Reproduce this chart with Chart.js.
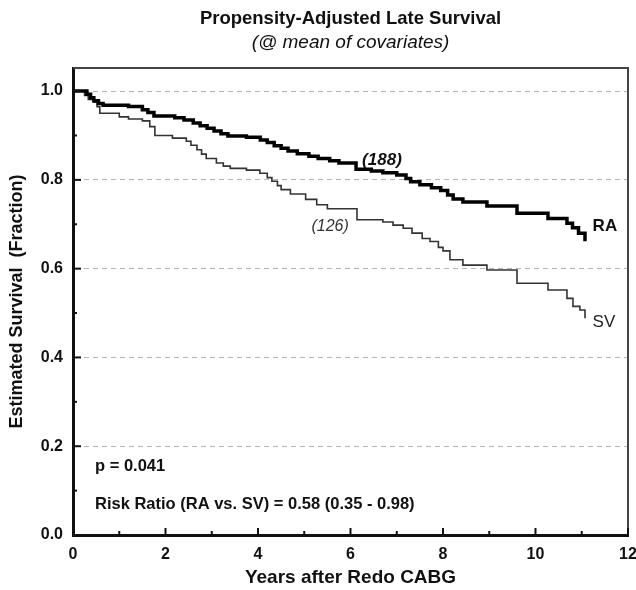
<!DOCTYPE html>
<html>
<head>
<meta charset="utf-8">
<script src="https://cdn.jsdelivr.net/npm/chart.js@4.4.1/dist/chart.umd.min.js"></script>
<style>
    html, body { margin: 0; padding: 0; background: #fff; }
</style>
</head>
<body>
<canvas id="late-survival" width="636" height="590"></canvas>
<script>
(function () {
    "use strict";

    // Kaplan-Meier style step data (years, fraction surviving)
    var raYears = [0, 0.3, 0.38, 0.45, 0.55, 0.65, 1.2, 1.5, 1.62, 1.75, 2.2, 2.4, 2.6, 2.75, 2.9, 3.05, 3.2, 3.35, 3.75,
        4.05, 4.2, 4.35, 4.5, 4.65, 4.85, 5.1, 5.3, 5.55, 5.75, 6.12, 6.45, 6.7, 7.0, 7.2, 7.3, 7.5, 7.75, 7.95,
        8.1, 8.22, 8.43, 8.95, 9.6, 10.27, 10.68, 10.8, 10.93, 11.07];
    var raSurvival = [1.0, 0.993, 0.985, 0.978, 0.972, 0.968, 0.965, 0.958, 0.952, 0.944, 0.94, 0.935, 0.928, 0.922, 0.916, 0.91, 0.904, 0.899, 0.896,
        0.89, 0.884, 0.877, 0.871, 0.865, 0.859, 0.853, 0.848, 0.843, 0.838, 0.824, 0.82, 0.816, 0.811, 0.803, 0.796, 0.789, 0.782, 0.776,
        0.766, 0.757, 0.75, 0.741, 0.725, 0.713, 0.702, 0.692, 0.68, 0.662];

    var svYears = [0, 0.25, 0.33, 0.45, 0.52, 0.58, 1.0, 1.2, 1.5, 1.66, 1.77, 2.15, 2.45, 2.55, 2.68, 2.78, 2.88, 3.1, 3.25, 3.4, 3.75,
        4.04, 4.2, 4.3, 4.42, 4.5, 4.7, 5.03, 5.27, 5.5, 6.14, 6.7, 6.92, 7.14, 7.33, 7.55, 7.72, 7.9, 8.0,
        8.15, 8.43, 8.95, 9.6, 10.27, 10.68, 10.81, 10.96, 11.07];
    var svSurvival = [1.0, 0.99, 0.981, 0.975, 0.965, 0.95, 0.942, 0.937, 0.933, 0.92, 0.9, 0.894, 0.887, 0.878, 0.868, 0.858, 0.848, 0.838, 0.831, 0.826, 0.822,
        0.815, 0.805, 0.797, 0.787, 0.778, 0.768, 0.756, 0.744, 0.735, 0.71, 0.705, 0.698, 0.691, 0.68, 0.668, 0.661, 0.648, 0.64,
        0.62, 0.608, 0.597, 0.567, 0.552, 0.533, 0.515, 0.507, 0.488];

    var xTicks = [0, 1, 2, 3, 4, 5, 6, 7, 8, 9, 10, 11, 12];
    var xTickLabels = ['0', '', '2', '', '4', '', '6', '', '8', '', '10', '', '12'];
    var yTicks = [0, 0.1, 0.2, 0.3, 0.4, 0.5, 0.6, 0.7, 0.8, 0.9, 1.0];
    var yTickLabels = ['0.0', '', '0.2', '', '0.4', '', '0.6', '', '0.8', '', '1.0'];

    var FONT = "'Liberation Sans', Arial, Helvetica, sans-serif";
    Chart.defaults.font.family = FONT;
    Chart.defaults.color = '#111';

    function points(xs, ys) {
        return xs.map(function (x, i) { return { x: x, y: ys[i] }; });
    }

    // text notes placed in data units
    var notes = [
        { text: '(188)', x: 6.68, y: 0.845, font: 'italic bold 17px ' + FONT, align: 'center', color: '#111' },
        { text: '(126)', x: 5.56, y: 0.694, font: 'italic 16px ' + FONT, align: 'center', color: '#333' },
        { text: 'RA', x: 11.5, y: 0.696, font: 'bold 17px ' + FONT, align: 'center', color: '#111' },
        { text: 'SV', x: 11.48, y: 0.479, font: '17px ' + FONT, align: 'center', color: '#222' },
        { text: 'p = 0.041', x: 0.476, y: 0.154, font: 'bold 16.5px ' + FONT, align: 'left', color: '#111' },
        { text: 'Risk Ratio (RA vs. SV) = 0.58 (0.35 - 0.98)', x: 0.476, y: 0.068, font: 'bold 16.5px ' + FONT, align: 'left', color: '#111' }
    ];

    // frame, inward tick marks, notes
    var decorations = {
        id: 'decorations',
        afterDatasetsDraw: function (chart) {
            var ctx = chart.ctx, area = chart.chartArea;
            var xs = chart.scales.x, ys = chart.scales.y;
            ctx.save();
            ctx.strokeStyle = '#444';
            ctx.lineWidth = 2;
            ctx.beginPath();
            ctx.moveTo(area.left, area.top);
            ctx.lineTo(area.right, area.top);
            ctx.lineTo(area.right, area.bottom);
            ctx.stroke();

            ctx.strokeStyle = '#111';
            ctx.lineWidth = 2;
            xTicks.forEach(function (v, i) {
                var px = xs.getPixelForValue(v);
                var len = xTickLabels[i] ? 7 : 4;
                ctx.beginPath();
                ctx.moveTo(px, area.bottom);
                ctx.lineTo(px, area.bottom - len);
                ctx.stroke();
            });
            yTicks.forEach(function (v, i) {
                var py = ys.getPixelForValue(v);
                var len = yTickLabels[i] ? 8 : 4;
                ctx.beginPath();
                ctx.moveTo(area.left, py);
                ctx.lineTo(area.left + len, py);
                ctx.stroke();
            });

            ctx.textBaseline = 'middle';
            notes.forEach(function (n) {
                ctx.font = n.font;
                ctx.fillStyle = n.color;
                ctx.textAlign = n.align;
                ctx.fillText(n.text, xs.getPixelForValue(n.x), ys.getPixelForValue(n.y));
            });
            ctx.restore();
        }
    };

    var ctx = document.getElementById('late-survival').getContext('2d');
    var survivalChart = new Chart(ctx, {
        type: 'line',
        data: {
            datasets: [{
                label: 'RA',
                data: points(raYears, raSurvival),
                borderColor: '#000',
                borderWidth: 3.5,
                stepped: true,
                pointRadius: 0,
                fill: false
            }, {
                label: 'SV',
                data: points(svYears, svSurvival),
                borderColor: '#333',
                borderWidth: 1.6,
                stepped: true,
                pointRadius: 0,
                fill: false
            }]
        },
        options: {
            responsive: false,
            animation: false,
            layout: { padding: { left: 0, right: 0, top: 0, bottom: 0 } },
            plugins: {
                legend: { display: false },
                tooltip: { enabled: false },
                title: {
                    display: true,
                    text: 'Propensity-Adjusted Late Survival',
                    fullSize: false,
                    font: { size: 18.5, weight: 'bold' },
                    color: '#111',
                    padding: { top: 8, bottom: 0 }
                },
                subtitle: {
                    display: true,
                    text: '(@ mean of covariates)',
                    fullSize: false,
                    font: { size: 19, style: 'italic' },
                    color: '#111',
                    padding: { top: 1, bottom: 14 }
                }
            },
            scales: {
                x: {
                    type: 'linear',
                    min: 0,
                    max: 12,
                    afterBuildTicks: function (scale) {
                        scale.ticks = xTicks.map(function (v) { return { value: v }; });
                    },
                    afterFit: function (scale) {
                        scale.height = 55;
                        scale.paddingRight = 8;
                    },
                    ticks: {
                        autoSkip: false,
                        maxRotation: 0,
                        padding: 4,
                        font: { size: 16, weight: 'bold' },
                        callback: function (value, index) { return xTickLabels[index]; }
                    },
                    grid: { drawOnChartArea: false, tickLength: 6, tickColor: 'rgba(0,0,0,0)' },
                    border: { color: '#111', width: 3 },
                    title: {
                        display: true,
                        text: 'Years after Redo CABG',
                        font: { size: 19, weight: 'bold' },
                        padding: { top: 0, bottom: 1 }
                    }
                },
                y: {
                    type: 'linear',
                    min: 0,
                    max: 1.052,
                    afterBuildTicks: function (scale) {
                        scale.ticks = yTicks.map(function (v) { return { value: v }; });
                    },
                    afterFit: function (scale) { scale.width = 73; },
                    ticks: {
                        autoSkip: false,
                        padding: 4,
                        font: { size: 16, weight: 'bold' },
                        callback: function (value, index) { return yTickLabels[index]; }
                    },
                    grid: {
                        lineWidth: 1,
                        tickLength: 6,
                        tickColor: 'rgba(0,0,0,0)',
                        color: function (c) {
                            var i = c.index;
                            return (i > 0 && yTickLabels[i]) ? '#b5b5b5' : 'rgba(0,0,0,0)';
                        }
                    },
                    border: { color: '#111', width: 3, dash: [5, 4] },
                    title: {
                        display: true,
                        text: 'Estimated Survival  (Fraction)',
                        font: { size: 18, weight: 'bold' },
                        padding: { top: 6, bottom: 0 }
                    }
                }
            }
        },
        plugins: [decorations]
    });
})();
</script>
</body>
</html>
